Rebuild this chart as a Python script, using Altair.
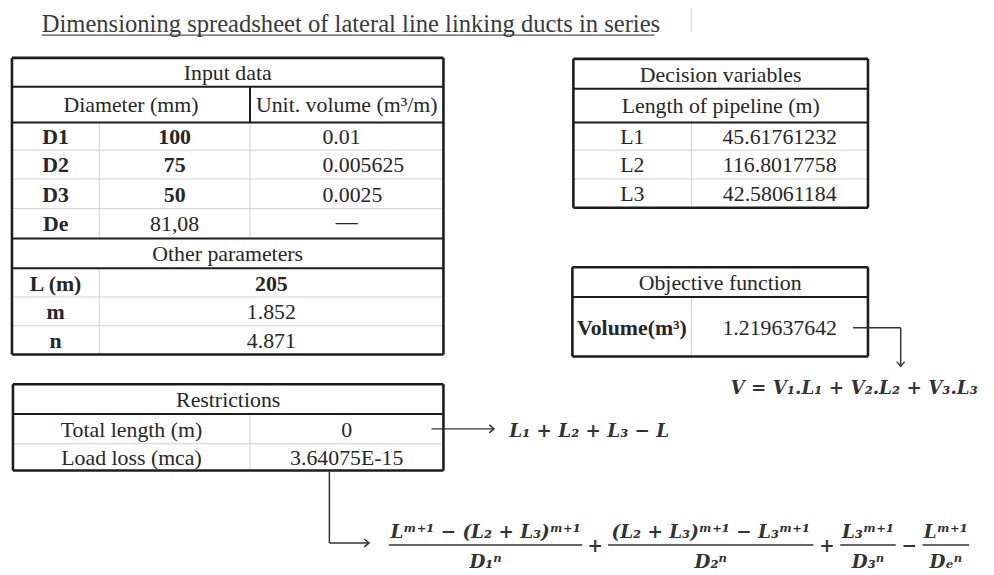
import altair as alt
import pandas as pd

# ---------------- content ----------------
TITLE = "Dimensioning spreadsheet of lateral line linking ducts in series"

input_header = "Input data"
input_col_heads = ["Diameter (mm)", "Unit. volume (m³/m)"]
diam_labels = ["D1", "D2", "D3", "De"]
diam_values = ["100", "75", "50", "81,08"]
unit_volumes = ["0.01", "0.005625", "0.0025", "—"]
other_header = "Other parameters"
param_labels = ["L (m)", "m", "n"]
param_values = ["205", "1.852", "4.871"]

dec_header = "Decision variables"
dec_subheader = "Length of pipeline (m)"
length_labels = ["L1", "L2", "L3"]
length_values = ["45.61761232", "116.8017758", "42.58061184"]

obj_header = "Objective function"
obj_label = "Volume(m³)"
obj_value = "1.219637642"

res_header = "Restrictions"
res_labels = ["Total length (m)", "Load loss (mca)"]
res_values = ["0", "3.64075E-15"]

obj_formula = "V = V₁.L₁ + V₂.L₂ + V₃.L₃"
len_formula = "L₁ + L₂ + L₃ − L"
loss_numerators = ["Lᵐ⁺¹ − (L₂ + L₃)ᵐ⁺¹", "(L₂ + L₃)ᵐ⁺¹ − L₃ᵐ⁺¹", "L₃ᵐ⁺¹", "Lᵐ⁺¹"]
loss_denominators = ["D₁ⁿ", "D₂ⁿ", "D₃ⁿ", "Dₑⁿ"]
loss_operators = ["+", "+", "−"]

# ---------------- layout ----------------
DARK = "#1c1c1c"
GRID = "#d0d0d0"
INK = "#333333"

rules, reg, bold, left, formula = [], [], [], [], []


def hline(x0, x1, y, c=DARK, w=2.0):
    rules.append(dict(x=x0, x2=x1, y=y, y2=y, c=c, w=w))


def vline(x, y0, y1, c=DARK, w=2.0):
    rules.append(dict(x=x, x2=x, y=y0, y2=y1, c=c, w=w))


def box(x0, x1, y0, y1, w=2.6):
    hline(x0, x1, y0, DARK, w)
    hline(x0, x1, y1, DARK, w)
    vline(x0, y0, y1, DARK, w)
    vline(x1, y0, y1, DARK, w)


def mids(ys):
    return [(a + b) / 2 for a, b in zip(ys[:-1], ys[1:])]


# Input data table
IX0, IXA, IXB, IX1 = 12, 100, 252, 447
IY = [56, 85, 121, 149, 178, 208, 238, 268, 297, 326, 355]
im = mids(IY)
for y in (IY[3], IY[4], IY[5], IY[8], IY[9]):
    hline(IX0, IX1, y, GRID, 1)
vline(IXA, IY[2], IY[6], GRID, 1)
vline(IXB, IY[2], IY[6], GRID, 1)
vline(IXA, IY[7], IY[10], GRID, 1)
vline(IXB, IY[1], IY[2], DARK, 2)
for y in (IY[1], IY[2], IY[6], IY[7]):
    hline(IX0, IX1, y, DARK, 2)
box(IX0, IX1, IY[0], IY[10])
reg.append(dict(x=(IX0 + IX1) / 2, y=im[0], t=input_header))
reg.append(dict(x=(IX0 + IXB) / 2, y=im[1], t=input_col_heads[0]))
reg.append(dict(x=(IXB + IX1) / 2, y=im[1], t=input_col_heads[1]))
for i, (lab, dv, uv) in enumerate(zip(diam_labels, diam_values, unit_volumes)):
    y = im[2 + i]
    bold.append(dict(x=(IX0 + IXA) / 2, y=y, t=lab))
    (bold if i < 3 else reg).append(dict(x=(IXA + IXB) / 2, y=y, t=dv))
    if i < 3:
        left.append(dict(x=325, y=y, t=uv))
    else:
        reg.append(dict(x=(IXB + IX1) / 2, y=y - 3, t=uv))
reg.append(dict(x=(IX0 + IX1) / 2, y=im[6], t=other_header))
for i, (lab, v) in enumerate(zip(param_labels, param_values)):
    y = im[7 + i]
    bold.append(dict(x=(IX0 + IXA) / 2, y=y, t=lab))
    (bold if i == 0 else reg).append(dict(x=(IXA + IX1) / 2, y=y, t=v))

# Decision variables table
DX0, DXD, DX1 = 578, 697, 875
DY = [57, 87, 121, 149, 178, 207]
dm = mids(DY)
for y in (DY[3], DY[4]):
    hline(DX0, DX1, y, GRID, 1)
vline(DXD, DY[2], DY[5], GRID, 1)
hline(DX0, DX1, DY[1], DARK, 2)
hline(DX0, DX1, DY[2], DARK, 2)
box(DX0, DX1, DY[0], DY[5])
reg.append(dict(x=(DX0 + DX1) / 2, y=dm[0], t=dec_header))
reg.append(dict(x=(DX0 + DX1) / 2, y=dm[1], t=dec_subheader))
for i, (lab, v) in enumerate(zip(length_labels, length_values)):
    reg.append(dict(x=(DX0 + DXD) / 2, y=dm[2 + i], t=lab))
    reg.append(dict(x=(DXD + DX1) / 2, y=dm[2 + i], t=v))

# Objective function table
OX0, OXD, OX1 = 577, 697, 875
OY = [267, 297, 357]
om = mids(OY)
vline(OXD, OY[1], OY[2], GRID, 1)
hline(OX0, OX1, OY[1], DARK, 2)
box(OX0, OX1, OY[0], OY[2])
reg.append(dict(x=(OX0 + OX1) / 2, y=om[0], t=obj_header))
bold.append(dict(x=(OX0 + OXD) / 2, y=om[1], t=obj_label))
reg.append(dict(x=(OXD + OX1) / 2, y=om[1], t=obj_value))

# Restrictions table
RX0, RXD, RX1 = 13, 252, 447
RY = [385, 415, 445, 472]
rm = mids(RY)
hline(RX0, RX1, RY[2], GRID, 1)
vline(RXD, RY[1], RY[3], GRID, 1)
hline(RX0, RX1, RY[1], DARK, 2)
box(RX0, RX1, RY[0], RY[3])
reg.append(dict(x=(RX0 + RX1) / 2, y=rm[0], t=res_header))
for i, (lab, v) in enumerate(zip(res_labels, res_values)):
    reg.append(dict(x=(RX0 + RXD) / 2, y=rm[1 + i], t=lab))
    reg.append(dict(x=(RXD + RX1) / 2, y=rm[1 + i], t=v))

# Title underline + faint artefact line
hline(42, 660, 33, "#555555", 1.2)
vline(697, 4, 30, "#e2e2e2", 1.5)

# Arrows
heads_right, heads_down = [], []
hline(860, 908, 328, INK, 1.5)
vline(908, 328, 367, INK, 1.5)
heads_down.append(dict(x=908, y=367))
hline(435, 498, 430, INK, 1.5)
heads_right.append(dict(x=498, y=430))
vline(332, 473, 545, INK, 1.5)
hline(332, 372, 545, INK, 1.5)
heads_right.append(dict(x=372, y=545))

# Formulas
formula.append(dict(x=861, y=395, t=obj_formula))
formula.append(dict(x=594, y=438, t=len_formula))
FRAC = [(392, 587), (613, 820), (847, 903), (930, 977)]
FRAC_Y = 547
for (a, b), num, den in zip(FRAC, loss_numerators, loss_denominators):
    hline(a, b, FRAC_Y, INK, 1.6)
    formula.append(dict(x=(a + b) / 2, y=540, t=num))
    formula.append(dict(x=(a + b) / 2, y=570, t=den))
ops = []
for (a, b), (c, d), op in zip(FRAC[:-1], FRAC[1:], loss_operators):
    ops.append(dict(x=(b + c) / 2, y=554, t=op))

# ---------------- chart ----------------
X = alt.X("x:Q", scale=alt.Scale(domain=[8, 994], nice=False, zero=False), axis=None)
Y = alt.Y("y:Q", scale=alt.Scale(domain=[8, 575], nice=False, zero=False, reverse=True), axis=None)

rule_layer = alt.Chart(pd.DataFrame(rules)).mark_rule().encode(
    x=X, y=Y, x2="x2:Q", y2="y2:Q",
    color=alt.Color("c:N", scale=None),
    strokeWidth=alt.StrokeWidth("w:Q", scale=None),
)

TF = "Liberation Serif"
MF = "DejaVu Serif"


def tlayer(rows, **kw):
    return alt.Chart(pd.DataFrame(rows)).mark_text(**kw).encode(x=X, y=Y, text="t:N")


reg_layer = tlayer(reg, font=TF, fontSize=22, color="#262626", align="center", baseline="middle", dy=1)
bold_layer = tlayer(bold, font=TF, fontSize=22, fontWeight="bold", color="#262626", align="center", baseline="middle", dy=1)
left_layer = tlayer(left, font=TF, fontSize=22, color="#262626", align="left", baseline="middle", dy=1)
title_layer = tlayer([dict(x=42, y=30, t=TITLE)], font=TF, fontSize=24.8, color="#3a3a3a", align="left", baseline="alphabetic")
formula_layer = tlayer(formula, font=MF, fontSize=18.5, fontStyle="italic", fontWeight="bold", color="#333333", align="center", baseline="alphabetic")
ops_layer = tlayer(ops, font=MF, fontSize=18.5, fontWeight="bold", color="#333333", align="center", baseline="alphabetic")

head_r = alt.Chart(pd.DataFrame(heads_right)).mark_point(
    shape="M-1.2,-1L0,0L-1.2,1", filled=False, size=64, stroke=INK, strokeWidth=1.5, opacity=1
).encode(x=X, y=Y)
head_d = alt.Chart(pd.DataFrame(heads_down)).mark_point(
    shape="M-1,-1.2L0,0L1,-1.2", filled=False, size=64, stroke=INK, strokeWidth=1.5, opacity=1
).encode(x=X, y=Y)

chart = alt.layer(
    rule_layer, reg_layer, bold_layer, left_layer, title_layer, formula_layer, ops_layer, head_r, head_d
).properties(
    width=986, height=567, padding=0, autosize=alt.AutoSizeParams(type="none"),
    background="white",
).configure_view(strokeWidth=0)

chart.save("out.html", embed_options={"renderer": "svg", "actions": False})
